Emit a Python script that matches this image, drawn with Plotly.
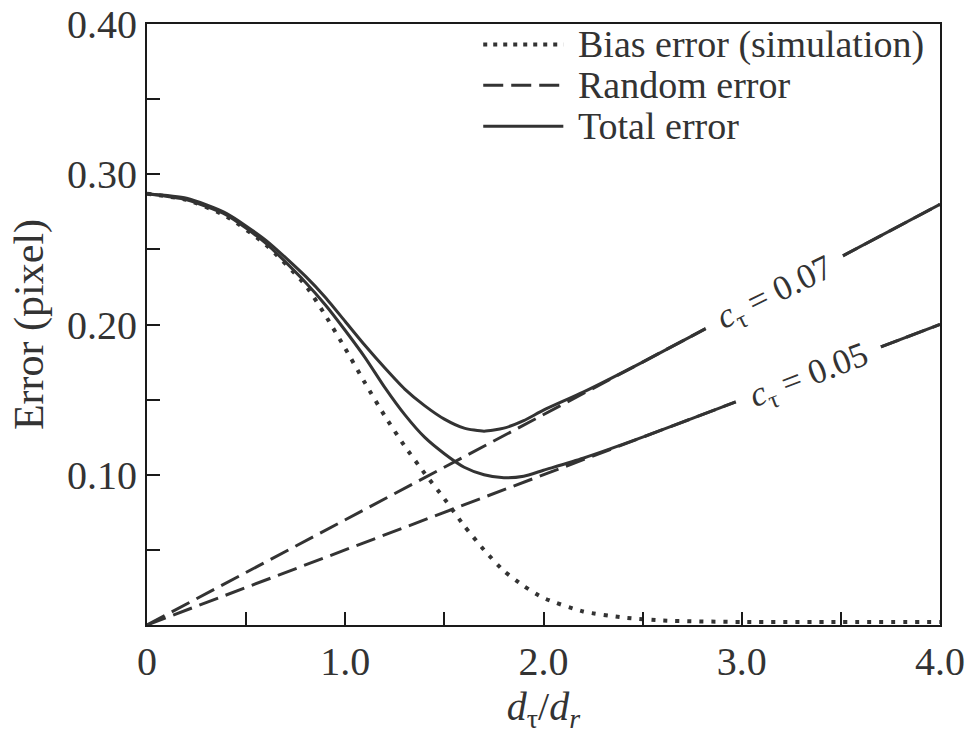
import plotly.graph_objects as go

# Normalised displacement d_tau / d_r
x_bias = [0.0, 0.2, 0.4, 0.6, 0.8, 0.9, 1.0, 1.1, 1.2, 1.3, 1.4, 1.5, 1.6, 1.7,
          1.8, 1.9, 2.0, 2.2, 2.4, 2.6, 3.0, 3.5, 4.0]
# Bias error from simulation (pixel)
bias_err = [0.287, 0.283, 0.272, 0.253, 0.226, 0.206, 0.184, 0.161, 0.139, 0.119,
            0.101, 0.084, 0.066, 0.050, 0.036, 0.026, 0.018, 0.009, 0.005, 0.003,
            0.002, 0.002, 0.002]

# Random error lines (pixel), straight from the origin
x_rand = [0.0, 4.0]
rand_err_07 = [0.0, 0.28]
rand_err_05 = [0.0, 0.20]

# Total error (pixel)
x_total = [0.0, 0.2, 0.4, 0.6, 0.8, 0.9, 1.0, 1.1, 1.2, 1.3, 1.4, 1.5, 1.6, 1.7,
           1.8, 1.9, 2.0, 2.2, 2.5, 3.0, 3.5, 4.0]
total_err_07 = [0.287, 0.284, 0.274, 0.256, 0.232, 0.218, 0.202, 0.186, 0.171, 0.157,
                0.146, 0.137, 0.131, 0.129, 0.131, 0.136, 0.143, 0.155, 0.175, 0.210,
                0.245, 0.280]
total_err_05 = [0.287, 0.283, 0.273, 0.254, 0.228, 0.213, 0.196, 0.178, 0.158, 0.140,
                0.125, 0.114, 0.105, 0.100, 0.098, 0.099, 0.103, 0.111, 0.125, 0.150,
                0.175, 0.200]

x_tickvals = [0.0, 1.0, 2.0, 3.0, 4.0]
x_ticktext = ["0", "1.0", "2.0", "3.0", "4.0"]
y_tickvals = [0.10, 0.20, 0.30, 0.40]
y_ticktext = ["0.10", "0.20", "0.30", "0.40"]

legend_labels = ["Bias error (simulation)", "Random error", "Total error"]
legend_dashes = ["4px,6px", "20px,8px", "solid"]
legend_widths = [4, 3, 3]

label_07 = "<i>c</i><sub>τ</sub> = 0.07"
label_05 = "<i>c</i><sub>τ</sub> = 0.05"

INK = "#333333"
AXIS = "#1a1a1a"
FONT = "Liberation Serif, Times New Roman, serif"

fig = go.Figure()

# random-error lines (dashed)
fig.add_trace(go.Scatter(x=x_rand, y=rand_err_05, mode="lines", showlegend=False,
                         line=dict(color=INK, width=3, dash="20px,8px")))
fig.add_trace(go.Scatter(x=x_rand, y=rand_err_07, mode="lines", showlegend=False,
                         line=dict(color=INK, width=3, dash="20px,8px")))

# bias error (dotted)
fig.add_trace(go.Scatter(x=x_bias, y=bias_err, mode="lines", showlegend=False,
                         line=dict(color=INK, width=4, dash="4px,8px", shape="spline",
                                   smoothing=0.6)))

# total error (solid)
fig.add_trace(go.Scatter(x=x_total, y=total_err_07, mode="lines", showlegend=False,
                         line=dict(color=INK, width=3, shape="spline", smoothing=0.6)))
fig.add_trace(go.Scatter(x=x_total, y=total_err_05, mode="lines", showlegend=False,
                         line=dict(color=INK, width=3, shape="spline", smoothing=0.6)))

# curve labels sitting on the total-error lines, breaking the line
fig.add_annotation(x=3.17, y=0.222, text=label_07, showarrow=False, textangle=-26,
                   bgcolor="white", borderpad=15, yshift=-2,
                   font=dict(family=FONT, size=35, color=INK))
fig.add_annotation(x=3.34, y=0.167, text=label_05, showarrow=False, textangle=-21,
                   bgcolor="white", borderpad=15, yshift=-2,
                   font=dict(family=FONT, size=35, color=INK))

# key in the upper right corner of the plot area
key_top = 0.966
key_step = 0.068
for i, (lab, dash, w) in enumerate(zip(legend_labels, legend_dashes, legend_widths)):
    yk = key_top - i * key_step
    fig.add_shape(type="line", xref="paper", yref="paper",
                  x0=0.424, x1=0.525, y0=yk, y1=yk,
                  line=dict(color=INK, width=w, dash=dash))
    fig.add_annotation(xref="paper", yref="paper", x=0.541, y=yk, text=lab,
                       showarrow=False, xanchor="left", yanchor="middle",
                       font=dict(family=FONT, size=38, color=INK))

tick_style = dict(ticks="inside", ticklen=13, tickwidth=2, tickcolor=AXIS)

fig.update_layout(
    width=969, height=735,
    margin=dict(l=147, r=29, t=24, b=110),
    paper_bgcolor="white", plot_bgcolor="white",
    font=dict(family=FONT, size=38, color=INK),
    showlegend=False,
    xaxis=dict(range=[0, 4.0], tickvals=x_tickvals, ticktext=x_ticktext,
               minor=dict(dtick=0.5, tick0=0, **tick_style), **tick_style,
               showline=True, linecolor=AXIS, linewidth=2, mirror=True,
               showgrid=False, zeroline=False, automargin=False,
               tickfont=dict(family=FONT, size=40, color=INK),
               title=dict(text="<i>d</i><sub>τ</sub>/<i>d</i><sub><i>r</i></sub>",
                          font=dict(family=FONT, size=40, color=INK), standoff=8)),
    yaxis=dict(range=[0, 0.40], tickvals=y_tickvals, ticktext=y_ticktext,
               minor=dict(dtick=0.05, tick0=0, **tick_style), **tick_style,
               showline=True, linecolor=AXIS, linewidth=2, mirror=True,
               showgrid=False, zeroline=False, automargin=False,
               tickfont=dict(family=FONT, size=40, color=INK),
               title=dict(text="Error (pixel)",
                          font=dict(family=FONT, size=42, color=INK), standoff=10)),
)

fig.write_html("out.html")
